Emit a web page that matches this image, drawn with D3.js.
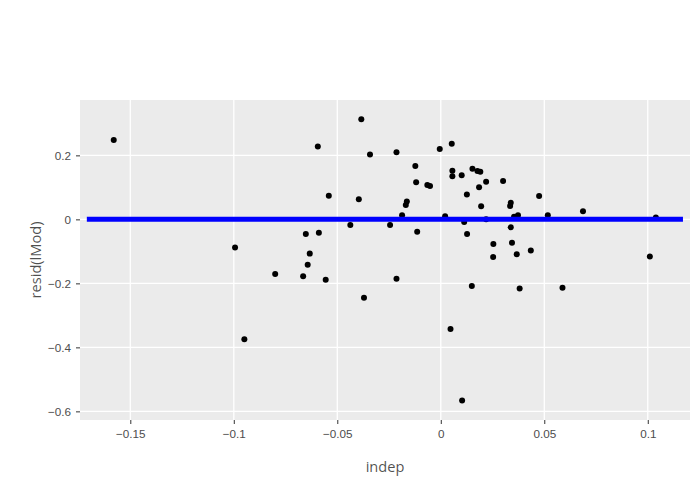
<!DOCTYPE html>
<html>
<head>
<meta charset="utf-8">
<script src="https://cdn.jsdelivr.net/npm/d3@7"></script>
<style>
  body { margin: 0; background: #fff; }
  svg { font-family: "Open Sans", verdana, arial, sans-serif; }
</style>
</head>
<body>
<div id="chart"></div>
<script>
// residuals vs indep
const indep = [
  -0.158, -0.0994, -0.0949, -0.080, -0.0665, -0.0652, -0.0643, -0.0633, -0.0594, -0.0589,
  -0.0556, -0.0541, -0.0437, -0.0396, -0.0384, -0.0371, -0.0342, -0.0245, -0.0214, -0.0214,
  -0.0187, -0.0169, -0.0164, -0.0123, -0.0119, -0.0114, -0.0065, -0.0052, -0.0005, 0.0021,
  0.0047, 0.0053, 0.0056, 0.0056, 0.0101, 0.0103, 0.0113, 0.0126, 0.0127, 0.015,
  0.0153, 0.0177, 0.0191, 0.0185, 0.0195, 0.0219, 0.0219, 0.0253, 0.0254, 0.0301,
  0.0335, 0.0338, 0.0338, 0.0344, 0.0354, 0.0367, 0.0373, 0.0381, 0.0435, 0.0475,
  0.0517, 0.0588, 0.0687, 0.101, 0.1039
]
const resid = [
  0.248, -0.088, -0.375, -0.171, -0.178, -0.046, -0.142, -0.107, 0.228, -0.042,
  -0.189, 0.074, -0.018, 0.063, 0.3125, -0.245, 0.203, -0.018, 0.210, -0.1855,
  0.0125, 0.045, 0.056, 0.167, 0.116, -0.039, 0.107, 0.104, 0.220, 0.010,
  -0.343, 0.236, 0.152, 0.135, 0.1375, -0.566, -0.008, 0.078, -0.046, -0.208,
  0.158, 0.151, 0.149, 0.100, 0.041, 0.1175, 0.000, -0.118, -0.077, 0.120,
  0.042, 0.052, -0.025, -0.073, 0.008, -0.109, 0.013, -0.216, -0.097, 0.073,
  0.013, -0.214, 0.025, -0.116, 0.006
]
const hlineX = [-0.171, 0.117]
const hlineY = [0, 0]
const xTicks = [-0.15, -0.1, -0.05, 0, 0.05, 0.1]
const yTicks = [-0.6, -0.4, -0.2, 0, 0.2]
const xDomain = [-0.1743, 0.1204]
const yDomain = [-0.627, 0.373]

const width = 700, height = 500
const margin = {top: 100, right: 10, bottom: 80, left: 80}

const svg = d3.select('#chart').append('svg')
    .attr('width', width)
    .attr('height', height)

const x = d3.scaleLinear().domain(xDomain).range([margin.left, width - margin.right])
const y = d3.scaleLinear().domain(yDomain).range([height - margin.bottom, margin.top])

svg.append('rect')
    .attr('x', margin.left).attr('y', margin.top)
    .attr('width', width - margin.left - margin.right)
    .attr('height', height - margin.top - margin.bottom)
    .attr('fill', 'rgb(235,235,235)')

// grid
svg.append('g').selectAll('line')
    .data(xTicks)
    .enter().append('line')
        .attr('x1', d => x(d)).attr('x2', d => x(d))
        .attr('y1', margin.top).attr('y2', height - margin.bottom)
        .attr('stroke', '#fff').attr('stroke-width', 1.3)

svg.append('g').selectAll('line')
    .data(yTicks)
    .enter().append('line')
        .attr('y1', d => y(d)).attr('y2', d => y(d))
        .attr('x1', margin.left).attr('x2', width - margin.right)
        .attr('stroke', '#fff').attr('stroke-width', 1.3)

// axes
const xAxis = d3.axisBottom(x).tickValues(xTicks).tickSize(4).tickPadding(6)
    .tickFormat(d => d3.format('')(d).replace('-', '\u2212'))
const yAxis = d3.axisLeft(y).tickValues(yTicks).tickSize(4).tickPadding(5)
    .tickFormat(d => d3.format('')(d).replace('-', '\u2212'))

const gx = svg.append('g')
    .attr('transform', `translate(0,${height - margin.bottom})`)
    .call(xAxis)
const gy = svg.append('g')
    .attr('transform', `translate(${margin.left},0)`)
    .call(yAxis)

gx.select('.domain').remove()
gy.select('.domain').remove()
svg.selectAll('.tick line').attr('stroke', 'rgba(51,51,51,1)').attr('stroke-width', 1)
svg.selectAll('.tick text')
    .attr('fill', 'rgba(77,77,77,1)')
    .style('font-size', '11.7px')

// points
const points = indep.map((d, i) => ({x: d, y: resid[i]}))

svg.append('g').selectAll('circle')
    .data(points)
    .enter().append('circle')
        .attr('cx', d => x(d.x))
        .attr('cy', d => y(d.y))
        .attr('r', 3)
        .attr('fill', '#000')

// y = 0 line
const line = d3.line().x(d => x(d[0])).y(d => y(d[1]))
svg.append('path')
    .attr('d', line(hlineX.map((d, i) => [d, hlineY[i]])))
    .attr('fill', 'none')
    .attr('stroke', 'rgb(0,0,255)')
    .attr('stroke-width', 5)

// titles
svg.append('text')
    .attr('x', (margin.left + width - margin.right) / 2)
    .attr('y', 472)
    .attr('text-anchor', 'middle')
    .attr('fill', 'rgba(0,0,0,0.7)')
    .style('font-size', '14.6px')
    .text('indep')

svg.append('text')
    .attr('transform', `translate(41,${(margin.top + height - margin.bottom) / 2}) rotate(-90)`)
    .attr('text-anchor', 'middle')
    .attr('fill', 'rgba(0,0,0,0.7)')
    .style('font-size', '14.6px')
    .text('resid(lMod)')
</script>
</body>
</html>
